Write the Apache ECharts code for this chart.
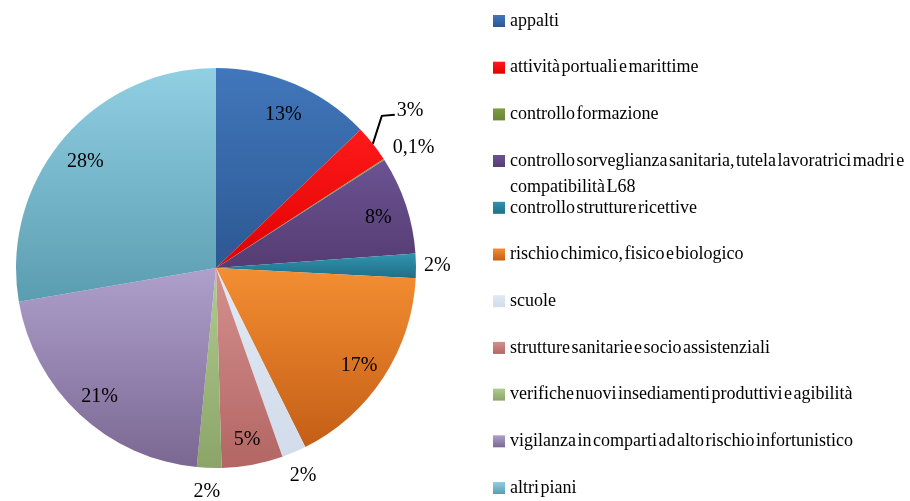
<!DOCTYPE html>
<html>
<head>
<meta charset="utf-8">
<script src="https://cdn.jsdelivr.net/npm/echarts@6/dist/echarts.min.js"></script>
<style>
  html, body { margin: 0; padding: 0; background: #ffffff; }
  #chart { width: 910px; height: 501px; }
</style>
</head>
<body>
<div id="chart"></div>
<script>
// Piani di vigilanza: quota percentuale per area di intervento
const categories = [
  'appalti',
  'attività portuali e marittime',
  'controllo formazione',
  'controllo sorveglianza sanitaria, tutela lavoratrici madri e compatibilità L68',
  'controllo strutture ricettive',
  'rischio chimico, fisico e biologico',
  'scuole',
  'strutture sanitarie e socio assistenziali',
  'verifiche nuovi insediamenti produttivi e agibilità',
  'vigilanza in comparti ad alto rischio infortunistico',
  'altri piani'
];
const shares = [13, 3, 0.1, 8, 2, 17, 2, 5, 2, 21, 28];

// slice fills: lighter tone at the top, darker at the bottom
const colorsTop = ['#4177bb', '#ff1a1a', '#7f9c44', '#6b5393', '#3094b0', '#f48e32', '#e0e9f4', '#d4908e', '#b0cc90', '#ae9fcb', '#91cfe3'];
const colorsBottom = ['#2c5893', '#e00000', '#6a8534', '#553c72', '#206e86', '#c45e16', '#d2dcea', '#b36664', '#8ca468', '#7a6892', '#5b9db0'];

// slices whose percentage sits outside the pie
const outsideIdx = [1, 2, 4, 6, 8];

const FONT = "'Liberation Serif', 'Times New Roman', serif";

function fill(i) {
  return new echarts.graphic.LinearGradient(0, 0, 0, 1, [
    { offset: 0, color: colorsTop[i] },
    { offset: 1, color: colorsBottom[i] }
  ]);
}

function pct(p) {
  return String(p.value).replace('.', ',') + '%';
}

// tight word spacing for the legend entries
function tight(name) {
  return name.replace(/ /g, '\u200A');
}

const CENTER = [216, 268];
const R = 200;

const legendText = {
  fontFamily: FONT,
  fontSize: 18,
  color: '#000000',
  lineHeight: 20
};

const chart = echarts.init(document.getElementById('chart'), null, { renderer: 'canvas' });

chart.setOption({
  backgroundColor: '#ffffff',
  animation: false,
  legend: [
    {
      orient: 'vertical', left: 493, top: 11, padding: 0,
      icon: 'rect', itemWidth: 12, itemHeight: 12, itemGap: 26.7,
      data: categories.slice(0, 3),
      formatter: tight,
      textStyle: legendText
    },
    {
      // two-line entry: the first line sits level with the marker
      orient: 'vertical', left: 493, top: 161 - 39, padding: 0,
      icon: 'rect', itemWidth: 12, itemHeight: 12,
      data: categories.slice(3, 4),
      formatter: function (name) {
        return '\n' + tight(name).replace('madri\u200Ae\u200A', 'madri\u200Ae\n');
      },
      textStyle: Object.assign({}, legendText, { lineHeight: 26 })
    },
    {
      orient: 'vertical', left: 493, top: 197.8, padding: 0,
      icon: 'rect', itemWidth: 12, itemHeight: 12, itemGap: 26.7,
      data: categories.slice(4),
      formatter: tight,
      textStyle: legendText
    }
  ],
  series: [
    {
      name: 'piani',
      type: 'pie',
      center: CENTER,
      radius: [0, R],
      startAngle: 90,
      clockwise: true,
      avoidLabelOverlap: false,
      emphasis: { scale: false },
      data: categories.map(function (name, i) {
        return {
          name: name,
          value: shares[i],
          itemStyle: { color: fill(i) },
          label: { show: outsideIdx.indexOf(i) >= 0 },
          labelLine: { show: i === 1 }
        };
      }),
      label: {
        position: 'outside',
        fontFamily: FONT,
        fontSize: 20,
        color: '#000000',
        formatter: pct,
        distanceToLabelLine: 5
      },
      labelLine: {
        show: false,
        length: 2,
        length2: 0,
        lineStyle: { color: '#000000', width: 2 }
      },
      labelLayout: function (p) {
        const i = p.dataIndex;
        if (i === 1) {
          // leader line: short climb from the rim, then a small step right
          const s = p.labelLinePoints[0];
          const bend = [s[0] + 9, s[1] - 28];
          const end = [bend[0] + 13, bend[1] - 1];
          return {
            x: end[0] + 2, y: end[1] - 4,
            align: 'left', verticalAlign: 'middle',
            labelLinePoints: [s, bend, end]
          };
        }
        if (i === 2) return { dx: 2, dy: -11 };
        if (i === 4) return { dx: 1 };
        if (i === 6) return { dx: -10, dy: 22 };
        if (i === 8) return { dx: 16, dy: 22 };
        return {};
      }
    },
    {
      // label ring: places the in-slice percentages near the rim
      name: 'etichette',
      type: 'pie',
      center: CENTER,
      radius: [136, R],
      startAngle: 90,
      clockwise: true,
      silent: true,
      avoidLabelOverlap: false,
      itemStyle: { color: 'rgba(0,0,0,0)' },
      emphasis: { disabled: true },
      data: categories.map(function (name, i) {
        return {
          name: name,
          value: shares[i],
          label: { show: outsideIdx.indexOf(i) < 0 }
        };
      }),
      label: {
        position: 'inside',
        fontFamily: FONT,
        fontSize: 20,
        color: '#000000',
        formatter: pct
      },
      labelLine: { show: false },
      labelLayout: function () {
        return { dy: 4 };
      }
    }
  ]
});
</script>
</body>
</html>
